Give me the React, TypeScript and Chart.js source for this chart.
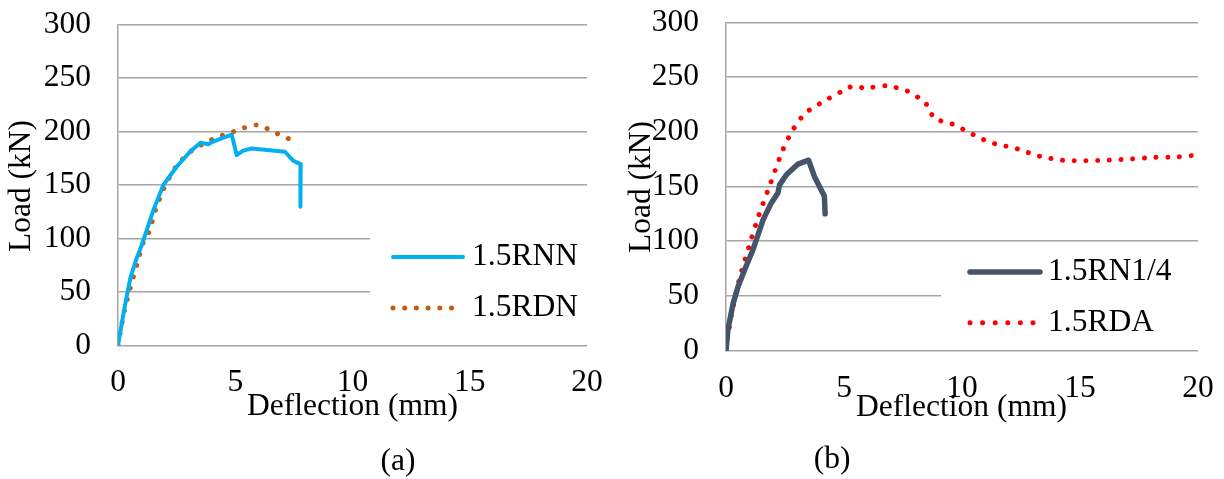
import React, { useEffect, useRef } from "react";
import { Chart, registerables } from "chart.js";

Chart.register(...registerables);

// ---------- data ----------
const RNN_X = [0, 0.16, 0.34, 0.54, 0.77, 1.04, 1.27, 1.51, 1.79, 1.93, 2.19, 2.5, 3.07, 3.52, 3.85, 4.06, 4.42, 4.85, 5.06, 5.34, 5.7, 7.12, 7.48, 7.79, 7.78];
const RNN_Y = [0, 20.5, 42.3, 64.1, 79.7, 95.3, 110.8, 126.4, 142, 149.8, 157.6, 167, 181, 189.5, 188, 190.5, 193.5, 197, 178, 182, 184, 181, 172.5, 169.5, 129.5];

const RDN_X = [0, 0.09, 0.27, 0.51, 0.84, 1.12, 1.32, 1.61, 1.96, 2.46, 3.14, 4.02, 4.95, 5.91, 6.79, 7.69];
const RDN_Y = [0, 11, 32, 52.6, 78, 99, 106, 127, 147, 166.6, 182, 192.5, 200, 206, 198, 189];

const RN14_X = [0, 0.08, 0.3, 0.51, 0.79, 1.14, 1.57, 1.92, 2.2, 2.27, 2.56, 3.05, 3.36, 3.5, 3.75, 4.17, 4.2];
const RN14_Y = [0, 19, 43, 58.5, 74, 92, 119.5, 135, 144, 151.5, 160.7, 170.5, 173, 174, 159, 141, 125];

const RDA_X = [0, 0.05, 0.15, 0.23, 0.55, 0.97, 1.38, 1.88, 2.39, 2.84, 3.36, 4.08, 4.96, 5.42, 5.83, 6.83, 7.34, 7.82, 8.22, 8.6, 8.8, 9.27, 9.73, 10.2, 10.65, 11.09, 11.58, 12.07, 12.56, 13.05, 13.52, 14.01, 14.5, 15.03, 16.03, 17.06, 18.06, 19.07, 20];
const RDA_Y = [0, 11, 22, 32.7, 64, 95, 123, 152.5, 182.6, 202, 217, 227, 237.5, 242, 240, 242, 239.6, 236, 230, 222.6, 212.5, 209, 206, 200.3, 195.7, 191, 188, 186, 183, 179, 176.5, 174.7, 173.5, 173.5, 174, 175, 176.5, 177, 178.8];

const X_TITLE = "Deflection (mm)";
const Y_TITLE = "Load (kN)";
const CAPTION_A = "(a)";
const CAPTION_B = "(b)";

const FONT_FAMILY = "'Liberation Serif', 'Times New Roman', serif";
const FONT_SIZE = 31.5;
const FONT = `${FONT_SIZE}px ${FONT_FAMILY}`;
const GRID = "#a6a6a6";

const pts = (xs: number[], ys: number[]) => xs.map((x, i) => ({ x, y: ys[i] }));

type Layout = {
  left: number; right: number; top: number; bottom: number;
  yTitle: [number, number]; xTitle: [number, number]; caption: [number, number]; captionText: string;
  box: [number, number, number, number];
  sample: [number, number]; dotEnd: number; textX: number; rows: number[];
};

const W = 612;
const H = 479;

function makeOverlay(L: Layout) {
  return {
    id: "overlay",
    afterDraw(chart: any) {
      const ctx: CanvasRenderingContext2D = chart.ctx;
      ctx.save();
      ctx.fillStyle = "#ffffff";
      ctx.fillRect(L.box[0], L.box[1], L.box[2], L.box[3]);
      chart.data.datasets.forEach((ds: any, i: number) => {
        const y = L.rows[i];
        const isDot = !!ds.borderDash;
        ctx.beginPath();
        ctx.strokeStyle = ds.borderColor;
        ctx.lineWidth = ds.borderWidth;
        ctx.lineCap = "round";
        if (isDot) {
          const gap = (L.dotEnd - L.sample[0]) / 5;
          ctx.setLineDash([0.01, gap - 0.01]);
          ctx.moveTo(L.sample[0], y);
          ctx.lineTo(L.dotEnd + 1, y);
        } else {
          ctx.setLineDash([]);
          ctx.moveTo(L.sample[0], y);
          ctx.lineTo(L.sample[1], y);
        }
        ctx.stroke();
        ctx.setLineDash([]);
        ctx.fillStyle = "#000";
        ctx.font = FONT;
        ctx.textAlign = "left";
        ctx.textBaseline = "middle";
        ctx.fillText(ds.label, L.textX, y);
      });
      ctx.fillStyle = "#000";
      ctx.font = FONT;
      ctx.textAlign = "center";
      ctx.textBaseline = "middle";
      ctx.fillText(X_TITLE, L.xTitle[0], L.xTitle[1]);
      ctx.fillText(L.captionText, L.caption[0], L.caption[1]);
      ctx.translate(L.yTitle[0], L.yTitle[1]);
      ctx.rotate(-Math.PI / 2);
      ctx.fillText(Y_TITLE, 0, 0);
      ctx.restore();
    },
  };
}

const noPad = (s: any) => {
  s.paddingTop = 0;
  s.paddingBottom = 0;
  s.paddingLeft = 0;
  s.paddingRight = 0;
};

function makeConfig(datasets: any[], L: Layout): any {
  return {
    type: "line",
    data: { datasets },
    options: {
      animation: false,
      responsive: false,
      devicePixelRatio: 1,
      layout: { padding: { left: 0, right: W - L.right, top: L.top, bottom: 0 } },
      plugins: { legend: { display: false }, tooltip: { enabled: false } },
      scales: {
        x: {
          type: "linear",
          min: 0,
          max: 20,
          ticks: { stepSize: 5, color: "#000", font: { family: FONT_FAMILY, size: FONT_SIZE }, padding: 19, maxRotation: 0 },
          grid: { display: false, drawTicks: false },
          border: { display: false },
          afterFit: (s: any) => { s.height = H - L.bottom; noPad(s); },
        },
        y: {
          type: "linear",
          min: 0,
          max: 300,
          ticks: { stepSize: 50, color: "#000", font: { family: FONT_FAMILY, size: FONT_SIZE }, padding: 27 },
          grid: { display: true, drawTicks: false, color: GRID, lineWidth: 1.5 },
          border: { display: true, color: GRID, width: 1.5 },
          afterFit: (s: any) => { s.width = L.left; noPad(s); },
        },
      },
    },
    plugins: [makeOverlay(L)],
  };
}

const solid = (label: string, xs: number[], ys: number[], color: string, w: number) => ({
  label, data: pts(xs, ys), borderColor: color, borderWidth: w, pointRadius: 0,
  tension: 0, fill: false, borderCapStyle: "round", borderJoinStyle: "round",
});
const dotted = (label: string, xs: number[], ys: number[], color: string, w: number) => ({
  label, data: pts(xs, ys), borderColor: color, borderWidth: w, pointRadius: 0,
  tension: 0.25, fill: false, borderCapStyle: "round", borderDash: [0.01, 11.7],
});

const LEFT: Layout = {
  left: 118, right: 587, top: 24.5, bottom: 345.3,
  yTitle: [22, 186], xTitle: [352.5, 407], caption: [398, 462], captionText: CAPTION_A,
  box: [370, 215, 217, 120], sample: [393, 463], dotEnd: 451.5, textX: 472, rows: [257, 308],
};
const RIGHT: Layout = {
  left: 114, right: 586, top: 22.3, bottom: 350.7,
  yTitle: [30, 187], xTitle: [349.5, 408], caption: [220, 460], captionText: CAPTION_B,
  box: [329, 250, 257, 95], sample: [358, 428], dotEnd: 421, textX: 436, rows: [272, 322.7],
};

function Panel({ datasets, layout, x }: { datasets: any[]; layout: Layout; x: number }) {
  const ref = useRef<HTMLCanvasElement>(null);
  useEffect(() => {
    if (!ref.current) return;
    const chart = new Chart(ref.current, makeConfig(datasets, layout));
    return () => chart.destroy();
  }, []);
  return (
    <canvas ref={ref} width={W} height={H}
      style={{ position: "absolute", left: x, top: 0, width: W, height: H }} />
  );
}

export default function App() {
  const leftSets = [
    solid("1.5RNN", RNN_X, RNN_Y, "#00b0f0", 4),
    dotted("1.5RDN", RDN_X, RDN_Y, "#c55a11", 5),
  ];
  const rightSets = [
    solid("1.5RN1/4", RN14_X, RN14_Y, "#44546a", 5.5),
    dotted("1.5RDA", RDA_X, RDA_Y, "#ff0000", 5),
  ];
  return (
    <div style={{ position: "fixed", left: 0, top: 0, width: 1224, height: 479, background: "#fff" }}>
      <Panel datasets={leftSets} layout={LEFT} x={0} />
      <Panel datasets={rightSets} layout={RIGHT} x={612} />
    </div>
  );
}
